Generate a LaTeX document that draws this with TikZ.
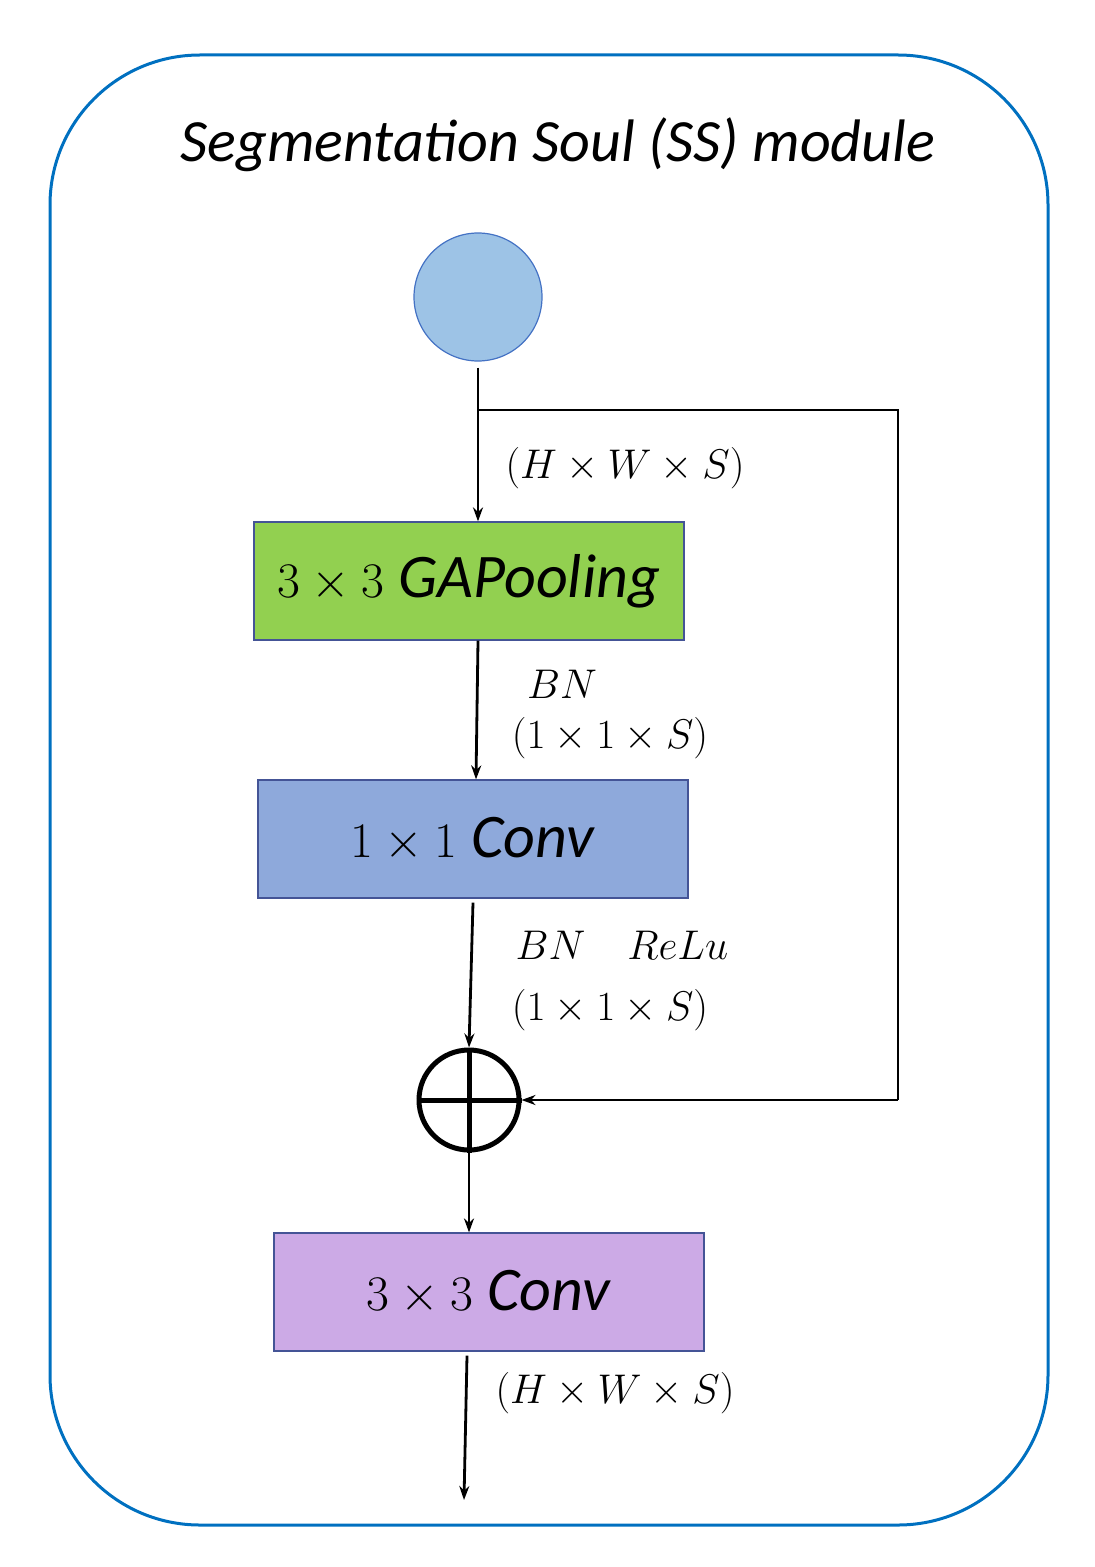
\documentclass[tikz,border=0pt]{standalone}
\usepackage{fontspec}
\setmainfont{Carlito}
\usetikzlibrary{arrows.meta}
\begin{document}
\begin{tikzpicture}[x=0.5pt,y=-0.5pt,
  box/.style={draw={rgb,255:red,68;green,84;blue,150},line width=0.6pt,minimum width=215pt,minimum height=59pt,inner sep=0pt},
  arr/.style={-{Stealth[length=7pt,width=5pt]},line width=1.4pt},
  lbl/.style={font=\fontsize{21}{24}\selectfont,inner sep=0pt}]
\useasboundingbox (0,0) rectangle (1094,1567);
\definecolor{frame}{RGB}{0,112,192}
\draw[frame,line width=1.5pt,rounded corners=75pt] (50,55) rectangle (1048,1525);
\node[inner sep=0pt,font=\fontsize{30}{32}\selectfont\itshape] (title) at (558,145) {Segmentation Soul (SS) module};
\node[circle,minimum size=64pt,inner sep=0pt,fill={rgb,255:red,157;green,195;blue,230},draw={rgb,255:red,68;green,114;blue,196},line width=0.6pt] (in) at (478,297) {};
\node[box,fill={rgb,255:red,146;green,208;blue,80}] (gap) at (469,581) {\fontsize{31}{34}\selectfont $3\times3$ \textit{GAPooling}};
\node[box,fill={rgb,255:red,142;green,169;blue,219}] (c1) at (473,839) {\fontsize{31}{34}\selectfont $1\times1$ \textit{Conv}};
\node[circle,draw,line width=2.5pt,minimum size=50pt,inner sep=0pt] (plus) at (469,1100) {};
\draw[line width=2.5pt] (plus.north)--(plus.south) (plus.west)--(plus.east);
\node[box,fill={rgb,255:red,204;green,170;blue,230}] (c3) at (489,1292) {\fontsize{31}{34}\selectfont $3\times3$ \textit{Conv}};
\coordinate (br) at (478,410);
\coordinate (r1) at (898,410);
\coordinate (r2) at (898,1100);
\coordinate (out) at (464,1500);
\draw[line width=1.4pt] ([yshift=-3pt]in.south) -- (br);
\draw[arr] (br) -- (gap.north -| br);
\draw[line width=1.4pt] (br) -- (r1) -- (r2);
\draw[arr] (r2) -- (plus.east);
\draw[arr] (gap.south -| br) -- (c1.north -| 476,0);
\draw[arr] ([yshift=-2pt]c1.south) -- (plus.north);
\draw[arr] (plus.south) -- (c3.north -| plus);
\draw[arr] ([yshift=-2pt]c3.south -| 467,0) -- (out);
\node[lbl] (l1) at (625,468) {$(H\times W\times S)$};
\node[lbl] (l2) at (562,684) {$BN$};
\node[lbl] (l3) at (610,738) {$(1\times1\times S)$};
\node[lbl] (l4) at (622,945) {$BN\quad ReLu$};
\node[lbl] (l5) at (610,1010) {$(1\times1\times S)$};
\node[lbl] (l6) at (615,1393) {$(H\times W\times S)$};
\end{tikzpicture}
\end{document}
